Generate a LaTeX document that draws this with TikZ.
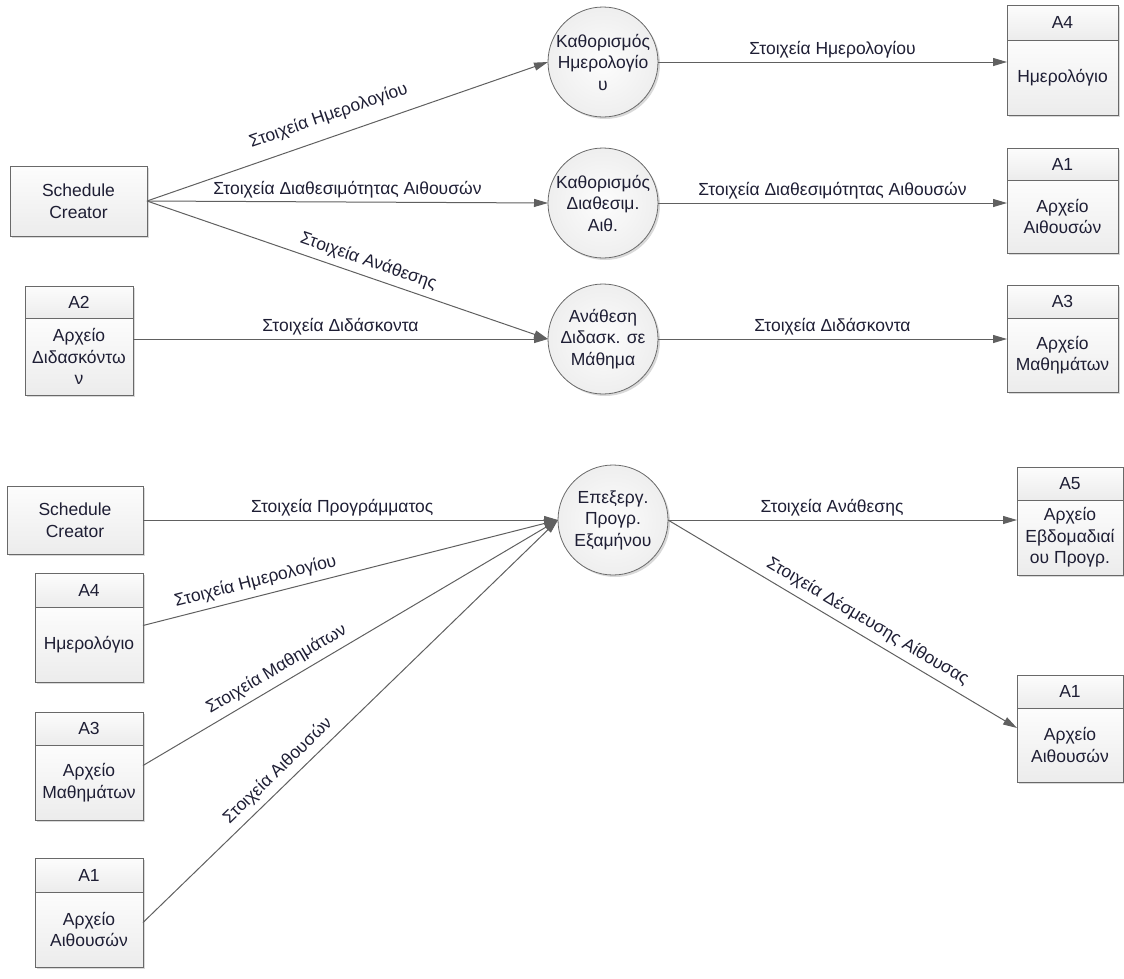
\documentclass[tikz,border=0pt]{standalone}
\usepackage{fontspec}
\setmainfont{Liberation Sans}
\usetikzlibrary{arrows.meta,shadows}
\definecolor{txt}{RGB}{30,30,52}
\definecolor{ln}{RGB}{96,96,96}
\definecolor{bd}{RGB}{105,105,105}
\begin{document}
\begin{tikzpicture}[x=1pt,y=-1pt,
  every node/.style={font=\fontsize{17.5}{21.5}\selectfont, text=txt},
  shad/.style={drop shadow={shadow xshift=2pt,shadow yshift=-2pt,opacity=0.3,fill=gray}},
  ent/.style={draw=bd, line width=0.8pt, top color=gray!2, bottom color=gray!15, align=center, inner sep=0pt, outer sep=0pt, shad},
  hdr/.style={ent, anchor=north west},
  bod/.style={ent, anchor=north west},
  circ/.style={circle, draw=bd, line width=0.8pt, inner sep=0pt, outer sep=0pt, minimum size=110pt, align=center, inner color=gray!2, outer color=gray!13, shad},
  flow/.style={draw=ln, line width=1pt, -{Triangle[length=14pt,width=8pt]}},
  lab/.style={sloped, above=4pt, inner sep=2pt},
  labh/.style={above=1pt, inner sep=2pt}]
\useasboundingbox (0,0) rectangle (1124,978);

% ---------- top part ----------
\node[ent, minimum width=137pt, minimum height=70pt] (sc1) at (78.5,201) {Schedule\\Creator};

\node[hdr, minimum width=108pt, minimum height=32pt] (a2h) at (25,286) {A2};
\node[bod, minimum width=108pt, minimum height=77pt] (a2b) at (a2h.south west) {Αρχείο\\Διδασκόντω\\ν};

\node[circ] (c1) at (603,62) {Καθορισμός\\Ημερολογίο\\υ};
\node[circ] (c2) at (603,203) {Καθορισμός\\Διαθεσιμ.\\Αιθ.};
\node[circ] (c3) at (603,339) {Ανάθεση\\Διδασκ. σε\\Μάθημα};

\node[hdr, minimum width=111pt, minimum height=35pt] (r4h) at (1007,5) {A4};
\node[bod, minimum width=111pt, minimum height=75pt] (r4b) at (r4h.south west) {Ημερολόγιο};

\node[hdr, minimum width=111pt, minimum height=32pt] (r1h) at (1007,148) {A1};
\node[bod, minimum width=111pt, minimum height=73pt] (r1b) at (r1h.south west) {Αρχείο\\Αιθουσών};

\node[hdr, minimum width=111pt, minimum height=33pt] (r3h) at (1007,285) {A3};
\node[bod, minimum width=111pt, minimum height=74pt] (r3b) at (r3h.south west) {Αρχείο\\Μαθημάτων};

\draw[flow] (sc1.east) -- (c1.west) node[lab,pos=0.47,above=6pt] {Στοιχεία Ημερολογίου};
\draw[flow] (sc1.east) -- (c2.west) node[labh,pos=0.5] {Στοιχεία Διαθεσιμότητας Αιθουσών};
\draw[flow] (sc1.east) -- (c3.west) node[lab,pos=0.54] {Στοιχεία Ανάθεσης};
\draw[flow] (a2b.east |- c3.west) -- (c3.west) node[labh,pos=0.5] {Στοιχεία Διδάσκοντα};

\draw[flow] (c1.east) -- (c1.east -| r4b.west) node[labh,pos=0.5] {Στοιχεία Ημερολογίου};
\draw[flow] (c2.east) -- (c2.east -| r1b.west) node[labh,pos=0.5] {Στοιχεία Διαθεσιμότητας Αιθουσών};
\draw[flow] (c3.east) -- (c3.east -| r3b.west) node[labh,pos=0.5] {Στοιχεία Διδάσκοντα};

% ---------- bottom part ----------
\node[ent, minimum width=136pt, minimum height=68pt] (sc2) at (75,520) {Schedule\\Creator};

\node[hdr, minimum width=108pt, minimum height=34pt] (b4h) at (35,573) {A4};
\node[bod, minimum width=108pt, minimum height=75pt] (b4b) at (b4h.south west) {Ημερολόγιο};

\node[hdr, minimum width=108pt, minimum height=33pt] (b3h) at (35,712) {A3};
\node[bod, minimum width=108pt, minimum height=75pt] (b3b) at (b3h.south west) {Αρχείο\\Μαθημάτων};

\node[hdr, minimum width=108pt, minimum height=34pt] (b1h) at (35,858) {A1};
\node[bod, minimum width=108pt, minimum height=75pt] (b1b) at (b1h.south west) {Αρχείο\\Αιθουσών};

\node[circ] (c4) at (613,520) {Επεξεργ.\\Προγρ.\\Εξαμήνου};

\node[hdr, minimum width=106pt, minimum height=33pt] (r5h) at (1017,467) {A5};
\node[bod, minimum width=106pt, minimum height=75pt] (r5b) at (r5h.south west) {Αρχείο\\Εβδομαδιαί\\ου Προγρ.};

\node[hdr, minimum width=106pt, minimum height=33pt] (q1h) at (1017,675) {A1};
\node[bod, minimum width=106pt, minimum height=74pt] (q1b) at (q1h.south west) {Αρχείο\\Αιθουσών};

\draw[flow] (sc2.east) -- (c4.west) node[labh,pos=0.48] {Στοιχεία Προγράμματος};
\draw[flow] ([yshift=19pt]b4b.east) -- (c4.west) node[lab,pos=0.28] {Στοιχεία Ημερολογίου};
\draw[flow] ([yshift=17pt]b3b.east) -- (c4.west) node[lab,pos=0.34] {Στοιχεία Μαθημάτων};
\draw[flow] ([yshift=7pt]b1b.east) -- (c4.west) node[lab,pos=0.35] {Στοιχεία Αιθουσών};

\draw[flow] (c4.east) -- (c4.east -| r5b.west) node[labh,pos=0.47] {Στοιχεία Ανάθεσης};
\draw[flow] (c4.east) -- ([yshift=17pt]q1b.west) node[lab,pos=0.55] {Στοιχεία Δέσμευσης Αίθουσας};
\end{tikzpicture}
\end{document}
